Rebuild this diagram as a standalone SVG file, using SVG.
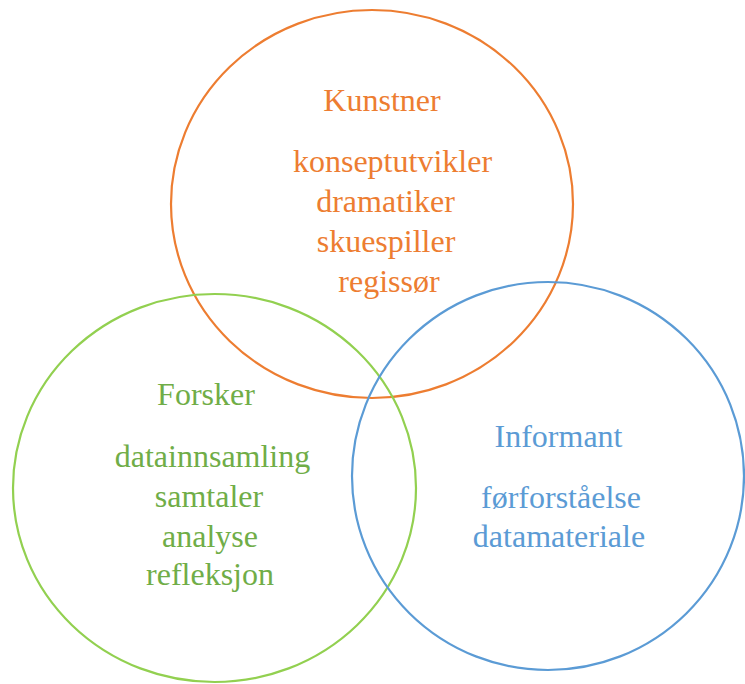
<svg xmlns="http://www.w3.org/2000/svg" width="745" height="684" viewBox="0 0 745 684">
  <style>
    .ring { fill: none; stroke-width: 2.2; }
    .lbl { font-family: "Liberation Serif", "Times New Roman", serif; font-size: 32px; text-anchor: middle; }
    .orange { fill: #ED7D31; }
    .green { fill: #70AD47; }
    .blue { fill: #5B9BD5; }
  </style>
  <rect width="745" height="684" fill="#ffffff"/>
  <g id="kunstner">
    <ellipse class="ring" cx="372" cy="204" rx="201" ry="194" stroke="#ED7D31"/>
    <text class="lbl orange" x="382" y="111">Kunstner</text>
    <text class="lbl orange" x="392.5" y="172">konseptutvikler</text>
    <text class="lbl orange" x="385.5" y="212">dramatiker</text>
    <text class="lbl orange" x="386" y="252">skuespiller</text>
    <text class="lbl orange" x="389" y="292">regissør</text>
  </g>
  <g id="forsker">
    <ellipse class="ring" cx="214.5" cy="488" rx="201.5" ry="194" stroke="#92D050"/>
    <text class="lbl green" x="206" y="405">Forsker</text>
    <text class="lbl green" x="212.5" y="467">datainnsamling</text>
    <text class="lbl green" x="209" y="507">samtaler</text>
    <text class="lbl green" x="210" y="547">analyse</text>
    <text class="lbl green" x="210" y="585">refleksjon</text>
  </g>
  <g id="informant">
    <ellipse class="ring" cx="548" cy="476" rx="196" ry="194" stroke="#5B9BD5"/>
    <text class="lbl blue" x="558.5" y="447">Informant</text>
    <text class="lbl blue" x="561" y="508">førforståelse</text>
    <text class="lbl blue" x="559" y="547">datamateriale</text>
  </g>
  <g id="connectors"/>
</svg>
